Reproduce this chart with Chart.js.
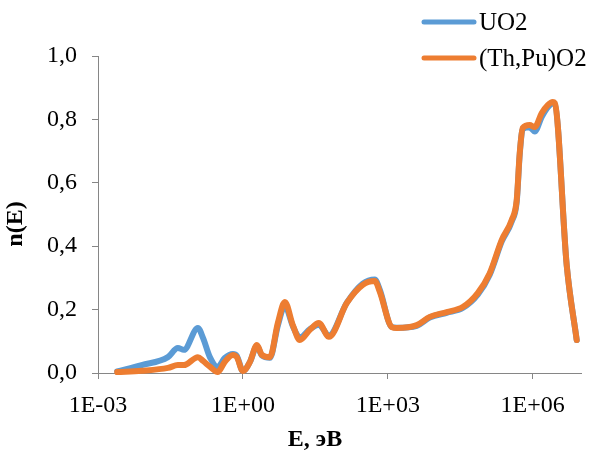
<!DOCTYPE html>
<html>
<head>
<meta charset="utf-8">
<script src="https://cdn.jsdelivr.net/npm/chart.js@4/dist/chart.umd.min.js"></script>
<style>
  body { margin: 0; background: #fff; }
  #wrap { width: 597px; height: 457px; }
</style>
</head>
<body>
<div id="wrap"><canvas id="myChart" width="597" height="457"></canvas></div>
<script>
// neutron energy, eV
const energy = [
  2.5e-3, 8e-3, 0.028, 0.045, 0.06, 0.117, 0.15, 0.207, 0.30, 0.42, 0.62, 0.75,
  1.0, 1.4, 1.95, 2.47, 3.62, 5.3, 7.39, 10.8, 15.1, 24.3, 37.4, 60.3,
  142, 304, 538, 684, 1210, 1540, 3980, 7400, 16600, 35600, 72800,
  1.29e5, 2.29e5, 3.68e5, 4.67e5, 5.39e5, 6.22e5, 8.67e5, 1.10e6, 1.54e6,
  2.05e6, 2.60e6, 2.86e6, 5.06e6, 8.15e6
];
const uo2 = [
  0.005, 0.025, 0.050, 0.079, 0.073, 0.142, 0.110, 0.050, 0.019, 0.047, 0.060, 0.054,
  0.006, 0.035, 0.085, 0.055, 0.048, 0.150, 0.212, 0.148, 0.112, 0.138, 0.152, 0.118,
  0.222, 0.282, 0.295, 0.262, 0.145, 0.143, 0.149, 0.175, 0.190, 0.205, 0.247,
  0.310, 0.415, 0.478, 0.540, 0.690, 0.770, 0.775, 0.762, 0.808,
  0.838, 0.850, 0.848, 0.340, 0.104
];
const thpu = [
  0.003, 0.007, 0.016, 0.025, 0.025, 0.050, 0.038, 0.020, 0.003, 0.035, 0.057, 0.050,
  0.006, 0.035, 0.088, 0.057, 0.050, 0.158, 0.224, 0.151, 0.104, 0.136, 0.158, 0.114,
  0.221, 0.278, 0.290, 0.256, 0.145, 0.142, 0.151, 0.177, 0.192, 0.208, 0.252,
  0.315, 0.420, 0.483, 0.546, 0.694, 0.773, 0.782, 0.776, 0.820,
  0.845, 0.855, 0.852, 0.340, 0.104
];
const seriesNames = ['UO2', '(Th,Pu)O2'];
const tickValues = [1e-3, 1, 1e3, 1e6];
const tickLabels = ['1E-03', '1E+00', '1E+03', '1E+06'];

const BLUE = '#5B9BD5';
const ORANGE = '#ED7D31';
const AXIS = '#868686';
const FONT = "'Liberation Serif', 'Times New Roman', serif";

function points(values) {
  return energy.map((e, i) => ({ x: e, y: values[i] }));
}

// legend entries and axis titles drawn straight onto the canvas
const extras = {
  id: 'extras',
  afterDraw(chart) {
    const ctx = chart.ctx;
    ctx.save();
    const items = [[seriesNames[0], BLUE, 22], [seriesNames[1], ORANGE, 58]];
    items.forEach(([name, color, y]) => {
      ctx.strokeStyle = color;
      ctx.lineWidth = 5;
      ctx.lineCap = 'round';
      ctx.beginPath();
      ctx.moveTo(424, y);
      ctx.lineTo(474, y);
      ctx.stroke();
      ctx.fillStyle = '#000';
      ctx.font = '25px ' + FONT;
      ctx.textAlign = 'left';
      ctx.textBaseline = 'middle';
      ctx.fillText(name, 479, y + 1);
    });

    ctx.font = 'bold 24px ' + FONT;
    ctx.textAlign = 'center';
    ctx.textBaseline = 'middle';
    ctx.fillText('E, эВ', 315, 440);

    ctx.translate(16, 224);
    ctx.rotate(-Math.PI / 2);
    ctx.fillText('n(E)', 0, 0);
    ctx.restore();
  }
};

const ctx = document.getElementById('myChart').getContext('2d');
new Chart(ctx, {
  type: 'line',
  data: {
    datasets: [
      {
        label: seriesNames[0],
        data: points(uo2),
        borderColor: BLUE,
        backgroundColor: BLUE,
        order: 1
      },
      {
        label: seriesNames[1],
        data: points(thpu),
        borderColor: ORANGE,
        backgroundColor: ORANGE,
        order: 0
      }
    ]
  },
  options: {
    responsive: false,
    animation: false,
    layout: { padding: { top: 56, right: 16, left: 0, bottom: 0 } },
    elements: {
      point: { radius: 0 },
      line: {
        borderWidth: 6,
        borderCapStyle: 'round',
        borderJoinStyle: 'round',
        cubicInterpolationMode: 'monotone'
      }
    },
    datasets: { line: { clip: false } },
    plugins: {
      legend: { display: false },
      tooltip: { enabled: false }
    },
    scales: {
      x: {
        type: 'logarithmic',
        min: 1e-3,
        max: 1e7,
        afterBuildTicks: s => { s.ticks = tickValues.map(v => ({ value: v })); },
        afterFit: s => { s.height = 84; },
        ticks: {
          autoSkip: false,
          maxRotation: 0,
          padding: 12,
          color: '#000',
          font: { family: FONT, size: 24 },
          callback: (v, i) => tickLabels[i]
        },
        grid: { drawOnChartArea: false, tickLength: 6, color: AXIS },
        border: { color: AXIS, width: 1 }
      },
      y: {
        min: 0,
        max: 1,
        afterFit: s => { s.width = 98; },
        ticks: {
          stepSize: 0.2,
          padding: 15,
          color: '#000',
          font: { family: FONT, size: 24 },
          callback: v => v.toFixed(1).replace('.', ',')
        },
        grid: { drawOnChartArea: false, tickLength: 6, color: AXIS },
        border: { color: AXIS, width: 1 }
      }
    }
  },
  plugins: [extras]
});
</script>
</body>
</html>
